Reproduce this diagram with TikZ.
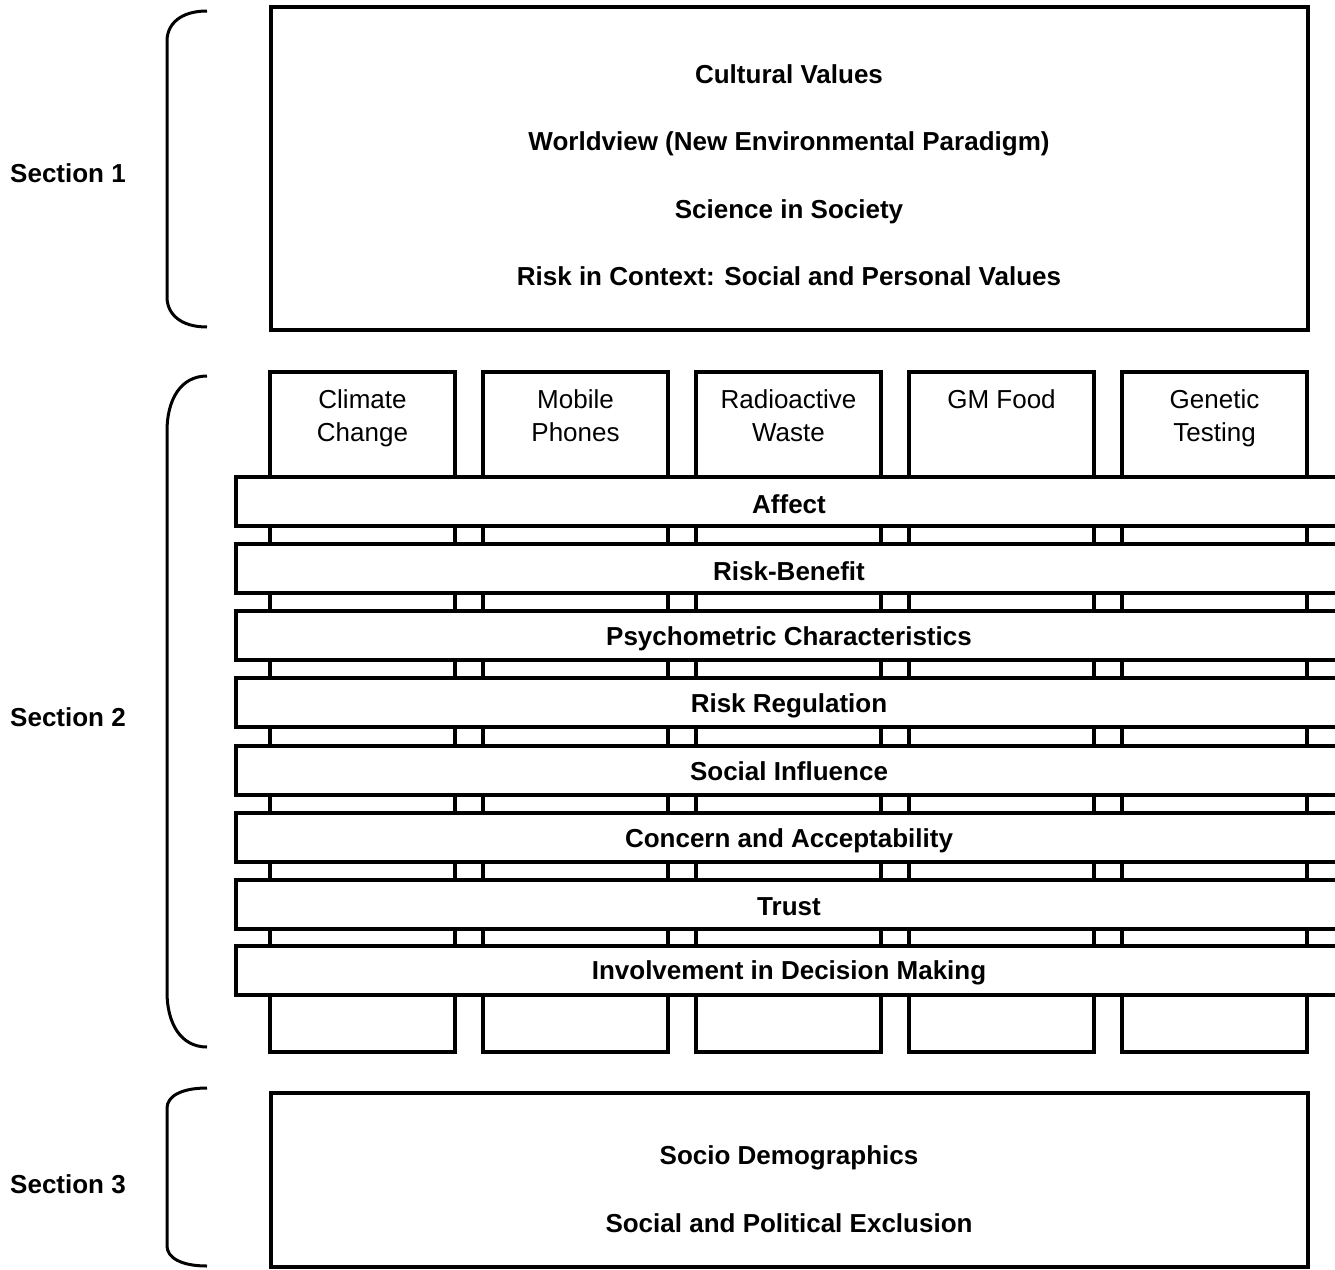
\documentclass[tikz,border=0pt]{standalone}
\usepackage{fontspec}
\setmainfont{Liberation Sans}
\tikzset{
  box/.style={line width=3.5pt, fill=white},
  brace line/.style={line width=3pt},
  heading/.style={font=\fontsize{26}{33}\selectfont\bfseries, inner sep=0pt, anchor=base},
  topic/.style={font=\fontsize{26}{33}\selectfont, align=center, inner sep=0pt, anchor=north}
}
\def\sectionbrace(#1:#2:#3){\draw[brace line] (207,#1) .. controls (180,#1) and (167,{#1+0.45*#3}) .. (167,{#1+#3}) -- (167,{#2-#3}) .. controls (167,{#2-0.45*#3}) and (180,#2) .. (207,#2);}

\begin{document}
\begin{tikzpicture}[x=1pt, y=-1pt]
			%%%%% START %%%%%
			\clip (0,0) rectangle (1335,1269);
			
			% section 1
			\sectionbrace(11:327:30)
			\node[heading] (sec1) at (68,182) {Section 1};
			\draw[box] (271,7) rectangle (1308,330);
			\node[heading] (cultural) at (789,83) {Cultural Values};
			\node[heading] (worldview) at (789,150) {Worldview (New Environmental Paradigm)};
			\node[heading] (science) at (789,218) {Science in Society};
			\node[heading] (context) at (789,285) {Risk in Context: Social and Personal Values};
			
			% section 2
			\sectionbrace(376:1047:55)
			\node[heading] (sec2) at (68,726) {Section 2};
			
			\draw[box] (270,372) rectangle (455,1052);
			\draw[box] (483,372) rectangle (668,1052);
			\draw[box] (696,372) rectangle (881,1052);
			\draw[box] (909,372) rectangle (1094,1052);
			\draw[box] (1122,372) rectangle (1307,1052);
			\node[topic] (climate) at (362.5,389) {Climate\\Change};
			\node[topic] (mobile) at (575.5,389) {Mobile\\Phones};
			\node[topic] (waste) at (788.5,389) {Radioactive\\Waste};
			\node[topic] (gmfood) at (1001.5,389) {GM Food};
			\node[topic] (genetic) at (1214.5,389) {Genetic\\Testing};
			
			\draw[box] (236,477) rectangle (1360,526);
			\node[heading] (affect) at (789,513) {Affect};
			\draw[box] (236,544) rectangle (1360,593);
			\node[heading] (riskben) at (789,580) {Risk-Benefit};
			\draw[box] (236,611) rectangle (1360,660);
			\node[heading] (psycho) at (789,645) {Psychometric Characteristics};
			\draw[box] (236,678) rectangle (1360,727);
			\node[heading] (riskreg) at (789,712) {Risk Regulation};
			\draw[box] (236,746) rectangle (1360,795);
			\node[heading] (influence) at (789,780) {Social Influence};
			\draw[box] (236,813) rectangle (1360,862);
			\node[heading] (concern) at (789,847) {Concern and Acceptability};
			\draw[box] (236,880) rectangle (1360,929);
			\node[heading] (trust) at (789,915) {Trust};
			\draw[box] (236,946) rectangle (1360,995);
			\node[heading] (involve) at (789,979) {Involvement in Decision Making};
			
			% section 3
			\sectionbrace(1088:1266:20)
			\node[heading] (sec3) at (68,1193) {Section 3};
			\draw[box] (271,1093) rectangle (1308,1267);
			\node[heading] (socio) at (789,1164) {Socio Demographics};
			\node[heading] (exclusion) at (789,1232) {Social and Political Exclusion};
			%%%%% END %%%%%
\end{tikzpicture}
\end{document}
